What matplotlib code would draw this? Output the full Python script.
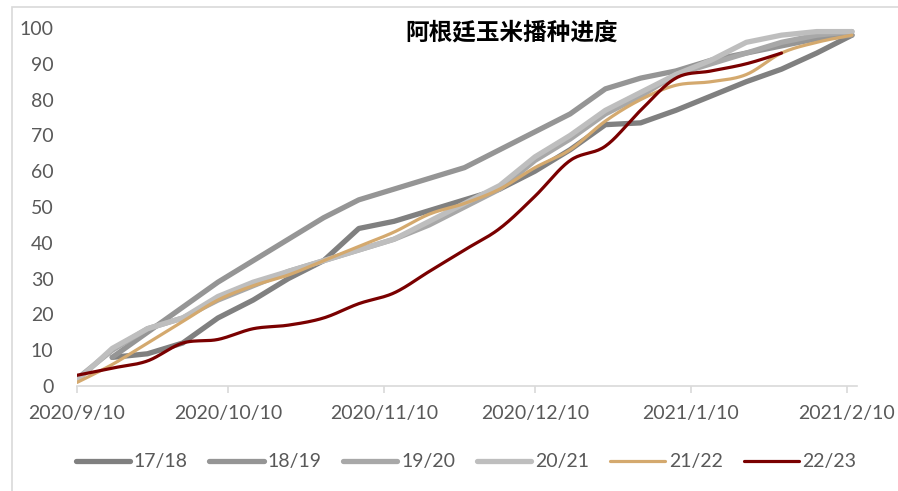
import numpy as np
import pandas as pd
import matplotlib
matplotlib.use('Agg')
import matplotlib.pyplot as plt
import matplotlib.dates as mdates
from matplotlib.patches import Rectangle

# weekly dates, 2020/9/10 .. 2021/2/11
dates = pd.date_range('2020-09-10', periods=23, freq='7D')

nan = np.nan
s1718 = [nan, 8, 9, 12, 19, 24, 30, 35, 44, 46, 49, 52, 55, 60, 66, 73, 73.5, 77, 81, 85, 88.5, 93, 98]
s1819 = [nan, 8, 15, 22, 29, 35, 41, 47, 52, 55, 58, 61, 66, 71, 76, 83, 86, 88, 91, 93, 95, 97, 98]
s1920 = [2, 10, 16, 19, 24, 28, 32, 35, 38, 41, 45, 50, 55, 63, 69, 76, 81, 87, 90, 93, 96, 98, 99]
s2021 = [1.5, 10.5, 16, 19, 25, 29, 32, 35, 38, 41, 46, 51, 56, 64, 70, 77, 82, 87, 91, 96, 98, 99, 99]
s2122 = [1, 6, 12, 18, 24, 28, 31, 35, 39, 43, 48, 51, 55, 61, 66, 74, 80, 84, 85, 87, 93, 96, 98]
s2223 = [3, 5, 7, 12, 13, 16, 17, 19, 23, 26, 32, 38, 44, 53, 63, 67, 77, 86, 88, 90, 93, nan, nan]

labels = ['17/18', '18/19', '19/20', '20/21', '21/22', '22/23']
series = [s1718, s1819, s1920, s2021, s2122, s2223]
colors = ['#808080', '#959595', '#a8a8a8', '#bebebe', '#d4a96e', '#7a0000']
widths = [3.8, 3.8, 3.8, 3.8, 2.3, 2.3]
smooth = [False, False, False, False, True, True]

title = '阿根廷玉米播种进度'
xtick_dates = pd.to_datetime(['2020-09-10', '2020-10-10', '2020-11-10',
                              '2020-12-10', '2021-01-10', '2021-02-10'])
xtick_labels = ['2020/9/10', '2020/10/10', '2020/11/10', '2020/12/10', '2021/1/10', '2021/2/10']


def catmull(x, y, n=20):
    # smoothed curve like excel's "smoothed line"
    xs, ys = [], []
    P = np.column_stack([x, y])
    for i in range(len(P) - 1):
        p0 = P[i - 1] if i > 0 else P[i]
        p1, p2 = P[i], P[i + 1]
        p3 = P[i + 2] if i + 2 < len(P) else P[i + 1]
        t = np.linspace(0, 1, n, endpoint=False)[:, None]
        c = 0.5 * ((2 * p1) + (-p0 + p2) * t + (2 * p0 - 5 * p1 + 4 * p2 - p3) * t ** 2
                   + (-p0 + 3 * p1 - 3 * p2 + p3) * t ** 3)
        xs.append(c[:, 0]); ys.append(c[:, 1])
    xs.append([P[-1, 0]]); ys.append([P[-1, 1]])
    return np.concatenate(xs), np.concatenate(ys)


plt.rcParams['font.family'] = ['Lato', 'DejaVu Sans']

fig = plt.figure(figsize=(8.98, 4.91), dpi=100)
ax = fig.add_axes([77 / 898, 105 / 491, 780 / 898, 358 / 491])

xnum = mdates.date2num(dates)
for lab, s, c, w, sm in zip(labels, series, colors, widths, smooth):
    s = np.array(s, dtype=float)
    ok = ~np.isnan(s)
    if sm:
        xx, yy = catmull(xnum[ok], s[ok])
    else:
        xx, yy = xnum[ok], s[ok]
    ax.plot(xx, yy, color=c, lw=w, label=lab, solid_capstyle='round', solid_joinstyle='round')

ax.set_xlim(mdates.date2num(pd.Timestamp('2020-09-10')), mdates.date2num(pd.Timestamp('2021-02-12')))
ax.set_ylim(0, 100)
ax.set_yticks(range(0, 101, 10))
ax.set_xticks(mdates.date2num(xtick_dates))
ax.set_xticklabels(xtick_labels)

for sp in ['top', 'right', 'left']:
    ax.spines[sp].set_visible(False)
ax.spines['bottom'].set_color('#d9d9d9')
ax.spines['bottom'].set_linewidth(1.2)
ax.tick_params(axis='x', colors='#d9d9d9', length=5, width=1.2, pad=9,
               labelcolor='#595959', labelsize=14)
ax.tick_params(axis='y', length=0, pad=17, labelcolor='#595959', labelsize=14)
for t in ax.get_xticklabels():
    t.set_clip_on(False)

fig.text(512 / 898, 1 - 33 / 491, title, ha='center', va='center', fontsize=17,
         fontweight='bold', family=['Noto Sans CJK SC', 'DejaVu Sans'])

fig.legend(loc='center', bbox_to_anchor=(466 / 898, 1 - 462 / 491), ncol=6, frameon=False,
           fontsize=14, handlelength=2.8, handletextpad=0.2, columnspacing=1.1,
           labelcolor='#595959')

fig.patches.append(Rectangle((12 / 898, -0.1), 1.2, 1.1 - 7 / 491, transform=fig.transFigure,
                             fill=False, edgecolor='#d9d9d9', lw=1.2))

fig.savefig('out.png', dpi=100)
